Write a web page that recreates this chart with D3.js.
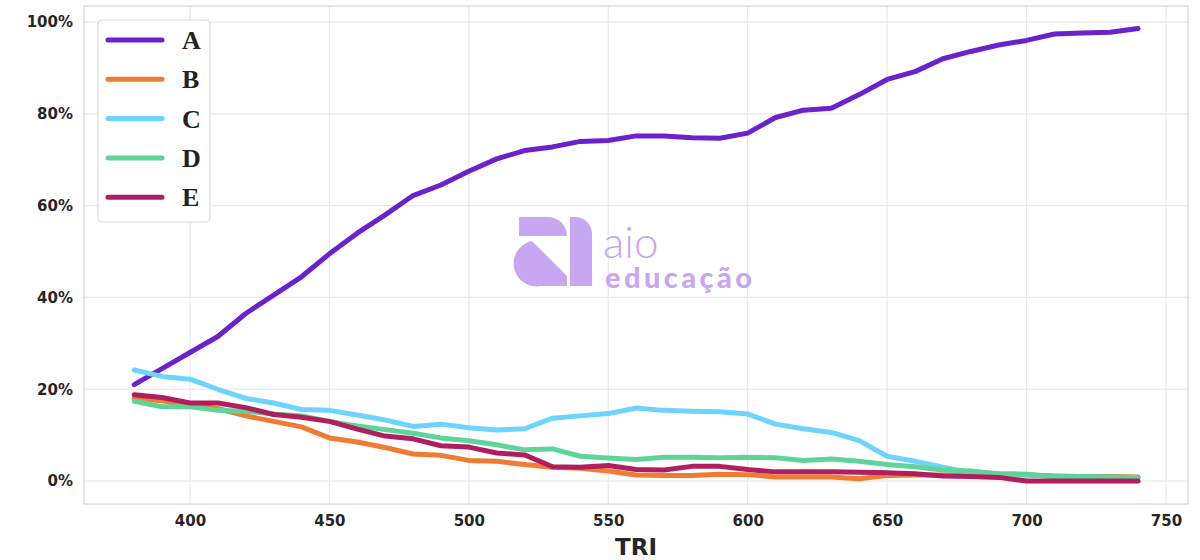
<!DOCTYPE html><html><head><meta charset="utf-8"><script src="https://cdn.jsdelivr.net/npm/d3@7"></script>
<style>body{margin:0;background:#fff}</style></head><body><svg id="c" width="1200" height="560"></svg>
<script>
const xs=d3.range(380,741,10);
const seriesNames=["A","B","C","D","E"];
const colors=["#6a22cc","#f07c32","#6dd3ff","#5fd49a","#b01e60"];
const A=[21,24.5,28,31.5,36.5,40.5,44.5,49.5,54,58,62.2,64.5,67.5,70.2,72,72.8,74,74.2,75.2,75.2,74.8,74.7,75.8,79.2,80.8,81.2,84.2,87.5,89.2,92,93.6,95,96,97.4,97.6,97.8,98.6];
const B=[18,17.5,16.5,15.8,14.2,13,11.8,9.4,8.5,7.3,5.9,5.6,4.5,4.3,3.6,3.0,2.8,2.2,1.3,1.2,1.2,1.5,1.4,0.9,0.9,0.9,0.5,1.2,1.3,1.3,1.3,1.3,1.3,1.1,1.0,1.0,0.9];
const C=[24.2,22.8,22.2,20,18,17,15.6,15.4,14.4,13.3,11.9,12.4,11.6,11.1,11.4,13.7,14.2,14.7,15.9,15.4,15.2,15.1,14.6,12.4,11.4,10.6,8.8,5.4,4.3,3.0,1.8,1.6,1.4,1.0,0.9,0.8,0.7];
const D=[17.4,16.2,16.2,15.4,15.2,14.6,14.2,13,12,11.2,10.4,9.4,8.8,7.9,6.8,7.0,5.4,5.0,4.7,5.2,5.2,5.1,5.2,5.1,4.5,4.8,4.3,3.6,3.1,2.4,2.2,1.6,1.5,1.0,1.0,0.9,0.8];
const E=[18.8,18.2,17,17,16,14.5,13.9,13,11.3,9.8,9.2,7.7,7.4,6.1,5.7,3.1,3.0,3.4,2.5,2.4,3.2,3.2,2.5,2.0,2.0,2.0,1.9,1.8,1.6,1.1,1.0,0.8,0,0,0,0,0];
const xTicks=[400,450,500,550,600,650,700,750];
const yTicks=[0,20,40,60,80,100];
const data=[A,B,C,D,E];
const L=84,R=1188,T=6,Bm=504;
const svg=d3.select("#c");
const x=d3.scaleLinear().domain([362,757.9]).range([L,R]);
const y=d3.scaleLinear().domain([-5,103.5]).range([Bm,T]);
const g=svg.append("g");
xTicks.forEach(t=>g.append("line").attr("x1",x(t)).attr("x2",x(t)).attr("y1",T).attr("y2",Bm).attr("stroke","#e8e8e8").attr("stroke-width",1.2));
yTicks.forEach(t=>g.append("line").attr("x1",L).attr("x2",R).attr("y1",y(t)).attr("y2",y(t)).attr("stroke","#e8e8e8").attr("stroke-width",1.2));
svg.append("rect").attr("x",L).attr("y",T).attr("width",R-L).attr("height",Bm-T).attr("fill","none").attr("stroke","#cccccc");
// watermark
const wm=svg.append("g").attr("fill","#c7a6f2");
wm.append("path").attr("d","M519,217 H548 A19,19 0 0 1 567,236 H519 Z");
wm.append("path").attr("d","M570,217 H575 A17,17 0 0 1 592,234 V286 H570 Z");
wm.append("path").attr("d","M532,241 L567,276 V286 H541 A22,22 0 0 1 532,241 Z");
wm.append("text").attr("x",603).attr("y",258).attr("font-family","Lato, sans-serif").attr("font-size",44).attr("font-weight",300).text("aio");
wm.append("text").attr("x",605).attr("y",288).attr("font-family","Lato, sans-serif").attr("font-size",29).attr("font-weight",900).attr("textLength",147).text("educação");
const line=d3.line().x((d,i)=>x(xs[i])).y(d=>y(d));
data.forEach((s,k)=>svg.append("path").datum(s).attr("d",line).attr("fill","none").attr("stroke",colors[k]).attr("stroke-width",5).attr("stroke-linejoin","round").attr("stroke-linecap","round"));
const ax=svg.append("g").attr("transform",`translate(0,${Bm})`).call(d3.axisBottom(x).tickValues(xTicks).tickSize(0).tickPadding(11));
const ay=svg.append("g").attr("transform",`translate(${L},0)`).call(d3.axisLeft(y).tickValues(yTicks).tickFormat(d=>d+"%").tickSize(0).tickPadding(11));
[ax,ay].forEach(a=>{a.select(".domain").remove();a.selectAll("text").attr("font-family","DejaVu Sans, sans-serif").attr("font-size",15).attr("font-weight","bold").attr("fill","#262626");});
svg.append("text").attr("x",636).attr("y",555).attr("text-anchor","middle").attr("font-family","DejaVu Sans, sans-serif").attr("font-weight","bold").attr("font-size",23).attr("fill","#262626").text("TRI");
const lg=svg.append("g");
lg.append("rect").attr("x",98).attr("y",20).attr("width",112).attr("height",202).attr("rx",4).attr("fill","#fff").attr("stroke","#d6d6d6");
seriesNames.forEach((n,k)=>{const yy=40+k*39.3;
lg.append("line").attr("x1",108).attr("x2",162).attr("y1",yy).attr("y2",yy).attr("stroke",colors[k]).attr("stroke-width",5).attr("stroke-linecap","round");
lg.append("text").attr("x",182).attr("y",yy+9).attr("font-family","Liberation Serif, serif").attr("font-weight","bold").attr("font-size",26).attr("fill","#222").text(n);});
</script></body></html>
